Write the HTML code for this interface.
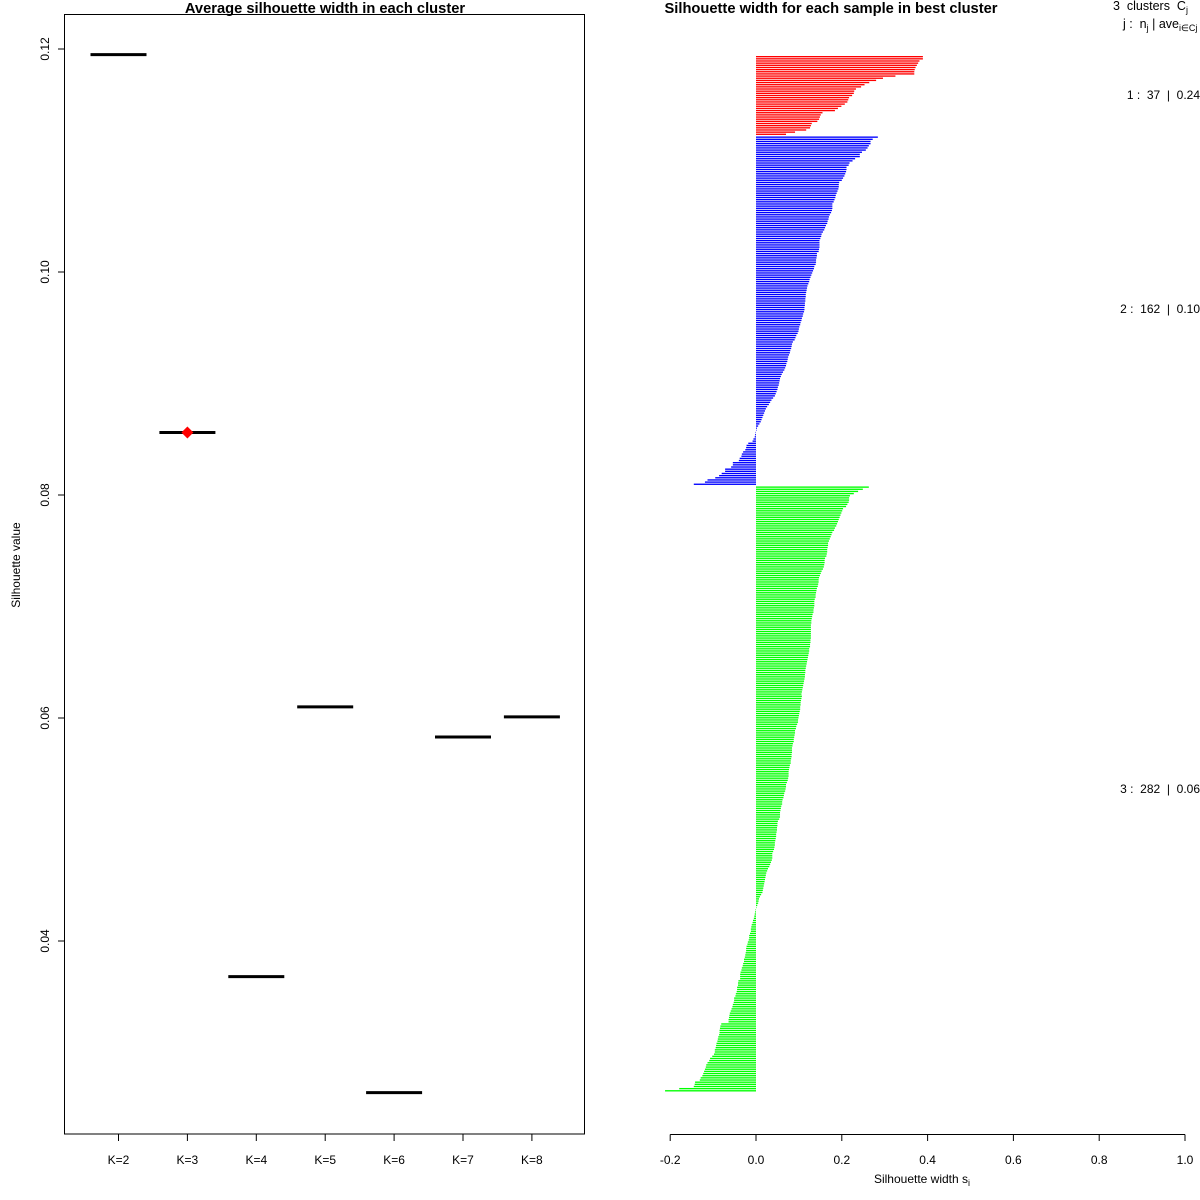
<!DOCTYPE html>
<html><head><meta charset="utf-8"><style>
html,body{margin:0;padding:0;background:#fff;}
svg{display:block;font-family:"Liberation Sans",sans-serif;}
</style></head><body>
<svg id="chart" width="1200" height="1200" viewBox="0 0 1200 1200">
  <g id="left"></g>
  <g id="right"></g>
</svg>
<script>
// ---------- Left chart data ----------
const kLabels = ["K=2","K=3","K=4","K=5","K=6","K=7","K=8"];
const avgSil = [0.1195, 0.0856, 0.0368, 0.0610, 0.0264, 0.0583, 0.0601];
const bestIndex = 1;
const yTicks = [0.04, 0.06, 0.08, 0.10, 0.12];
const yTickLabels = ["0.04","0.06","0.08","0.10","0.12"];

// ---------- Right chart data ----------
const cluster1 = [0.389,0.389,0.381,0.378,0.375,0.372,0.370,0.369,0.369,0.325,0.296,0.280,0.264,0.253,0.245,0.233,0.229,0.228,0.224,0.217,0.215,0.213,0.207,0.199,0.191,0.184,0.155,0.151,0.149,0.147,0.143,0.130,0.128,0.126,0.117,0.091,0.070];
const cluster2 = [0.284,0.272,0.267,0.267,0.263,0.260,0.256,0.247,0.242,0.242,0.231,0.225,0.218,0.216,0.211,0.211,0.210,0.208,0.206,0.203,0.200,0.194,0.193,0.193,0.192,0.190,0.188,0.186,0.185,0.183,0.181,0.178,0.178,0.178,0.177,0.175,0.172,0.170,0.169,0.167,0.166,0.163,0.161,0.159,0.156,0.153,0.152,0.150,0.148,0.148,0.148,0.148,0.147,0.146,0.142,0.142,0.141,0.140,0.140,0.139,0.136,0.135,0.133,0.131,0.129,0.127,0.125,0.124,0.122,0.120,0.119,0.118,0.117,0.116,0.116,0.115,0.115,0.114,0.114,0.113,0.113,0.112,0.110,0.109,0.107,0.106,0.104,0.103,0.101,0.100,0.099,0.097,0.094,0.092,0.090,0.086,0.084,0.083,0.082,0.080,0.079,0.077,0.075,0.074,0.073,0.071,0.070,0.068,0.066,0.063,0.060,0.058,0.056,0.055,0.054,0.053,0.051,0.050,0.048,0.046,0.044,0.040,0.036,0.033,0.030,0.026,0.023,0.021,0.019,0.017,0.015,0.013,0.011,0.008,0.005,0.002,0.001,-0.001,-0.002,-0.003,-0.006,-0.008,-0.018,-0.022,-0.023,-0.025,-0.030,-0.033,-0.034,-0.038,-0.040,-0.054,-0.054,-0.058,-0.072,-0.072,-0.080,-0.086,-0.095,-0.113,-0.119,-0.145];
const cluster3 = [0.263,0.249,0.238,0.228,0.219,0.217,0.217,0.216,0.213,0.210,0.203,0.201,0.199,0.197,0.195,0.193,0.191,0.189,0.187,0.184,0.182,0.178,0.176,0.174,0.172,0.170,0.168,0.168,0.167,0.166,0.166,0.165,0.164,0.161,0.160,0.160,0.159,0.158,0.156,0.153,0.151,0.149,0.147,0.146,0.146,0.145,0.144,0.142,0.141,0.140,0.139,0.139,0.137,0.136,0.136,0.136,0.135,0.134,0.134,0.132,0.131,0.130,0.129,0.129,0.128,0.128,0.128,0.128,0.128,0.128,0.128,0.127,0.127,0.126,0.126,0.124,0.124,0.123,0.122,0.121,0.120,0.119,0.118,0.117,0.116,0.115,0.115,0.114,0.114,0.113,0.112,0.111,0.110,0.109,0.108,0.107,0.106,0.107,0.106,0.105,0.104,0.104,0.103,0.103,0.102,0.101,0.100,0.099,0.098,0.098,0.096,0.094,0.093,0.091,0.091,0.090,0.089,0.088,0.088,0.086,0.085,0.084,0.084,0.084,0.083,0.083,0.082,0.081,0.081,0.079,0.078,0.077,0.076,0.076,0.076,0.075,0.074,0.072,0.070,0.070,0.069,0.068,0.066,0.065,0.064,0.062,0.061,0.061,0.059,0.058,0.057,0.056,0.056,0.056,0.054,0.051,0.050,0.050,0.049,0.049,0.048,0.047,0.047,0.046,0.045,0.044,0.044,0.043,0.042,0.040,0.038,0.038,0.038,0.037,0.035,0.033,0.031,0.028,0.026,0.024,0.023,0.022,0.021,0.020,0.019,0.018,0.017,0.016,0.015,0.012,0.009,0.007,0.006,0.005,0.003,0.001,-0.001,-0.002,-0.003,-0.004,-0.005,-0.007,-0.008,-0.010,-0.011,-0.012,-0.012,-0.014,-0.016,-0.016,-0.017,-0.019,-0.020,-0.022,-0.023,-0.023,-0.024,-0.025,-0.026,-0.028,-0.028,-0.030,-0.031,-0.033,-0.034,-0.036,-0.037,-0.037,-0.037,-0.041,-0.042,-0.042,-0.044,-0.044,-0.045,-0.047,-0.048,-0.051,-0.051,-0.052,-0.054,-0.055,-0.057,-0.059,-0.061,-0.062,-0.063,-0.064,-0.064,-0.081,-0.083,-0.084,-0.085,-0.085,-0.086,-0.088,-0.089,-0.090,-0.092,-0.093,-0.094,-0.096,-0.096,-0.098,-0.102,-0.107,-0.109,-0.113,-0.116,-0.117,-0.119,-0.121,-0.123,-0.125,-0.129,-0.131,-0.142,-0.143,-0.145,-0.179,-0.212];
const clusterColors = ["#ff0000","#0000ff","#00ff00"];
const clusterSummary = ["1 :  37  |  0.24","2 :  162  |  0.10","3 :  282  |  0.06"];
const xTicks = [-0.2,0,0.2,0.4,0.6,0.8,1.0];
const xTickLabels = ["-0.2","0.0","0.2","0.4","0.6","0.8","1.0"];

const NS = "http://www.w3.org/2000/svg";
function mk(parent, tag, attrs, text){
  const e = document.createElementNS(NS, tag);
  for (const k in attrs) e.setAttribute(k, attrs[k]);
  if (text !== undefined) e.textContent = text;
  parent.appendChild(e);
  return e;
}

// ---------- LEFT ----------
const L = document.getElementById("left");
const yScale = v => 49 + (0.12 - v) / 0.02 * 223;
const xK = i => 118.5 + i * 68.9;

let box = mk(L, "rect", {x:64.5, y:14.5, width:520, height:1119.5, fill:"none", stroke:"#000", "stroke-width":1});



let lt = mk(L, "text", {x:325, y:13, "text-anchor":"middle", "font-size":"14.7", "font-weight":"bold"}, "Average silhouette width in each cluster");



let yl = mk(L, "text", {x:0, y:0, transform:"translate(20,565) rotate(-90)", "text-anchor":"middle", "font-size":"12"}, "Silhouette value");



yTicks.forEach((v, i) => {
  const y = yScale(v);
  const t = mk(L, "line", {x1:58, x2:64.5, y1:y, y2:y, stroke:"#000"});
  
  
  const tl = mk(L, "text", {x:0, y:0, transform:`translate(49,${y}) rotate(-90)`, "text-anchor":"middle", "font-size":"12"}, yTickLabels[i]);
  
  
});

kLabels.forEach((lab, i) => {
  const x = xK(i);
  const t = mk(L, "line", {x1:x, x2:x, y1:1134, y2:1141, stroke:"#000"});
  
  
  const tl = mk(L, "text", {x:x, y:1164, "text-anchor":"middle", "font-size":"12"}, lab);
  
  
  const y = yScale(avgSil[i]);
  const seg = mk(L, "line", {x1:x-28, x2:x+28, y1:y, y2:y, stroke:"#000", "stroke-width":3});
  
  
});
{
  const x = xK(bestIndex), y = yScale(avgSil[bestIndex]);
  const d = mk(L, "polygon", {points:`${x},${y-6} ${x+6},${y} ${x},${y+6} ${x-6},${y}`, fill:"#ff0000"});
  
  
}

// ---------- RIGHT ----------
const R = document.getElementById("right");
const xScale = v => 756 + v / 0.2 * 85.8;
const pitch = 2.156, barH = 1.35, gapExtra = 0.7;

let rt = mk(R, "text", {x:831, y:13, "text-anchor":"middle", "font-size":"14.7", "font-weight":"bold"}, "Silhouette width for each sample in best cluster");



let y0 = 56;
const clusters = [cluster1, cluster2, cluster3];
clusters.forEach((vals, c) => {
  vals.forEach((v, i) => {
    const y = y0 + i * pitch;
    const xa = xScale(Math.min(0, v)), xb = xScale(Math.max(0, v));
    const b = mk(R, "rect", {x:xa, y:y, width:Math.max(0.01, xb - xa), height:barH, fill:clusterColors[c]});
    
    
  });
  y0 = y0 + vals.length * pitch + gapExtra;
});

let ax = mk(R, "line", {x1:xScale(-0.2), x2:xScale(1.0), y1:1134.5, y2:1134.5, stroke:"#000"});


xTicks.forEach((v, i) => {
  const x = xScale(v);
  const t = mk(R, "line", {x1:x, x2:x, y1:1134.5, y2:1141, stroke:"#000"});
  
  
  const tl = mk(R, "text", {x:x, y:1164, "text-anchor":"middle", "font-size":"12"}, xTickLabels[i]);
  
  
});

let xl = mk(R, "text", {x:922, y:1183, "text-anchor":"middle", "font-size":"12"});


xl.innerHTML = 'Silhouette width s<tspan font-size="9" dy="3">i</tspan>';

let h1 = mk(R, "text", {x:1113, y:10, "font-size":"12.5"});


h1.innerHTML = '3\u00a0 clusters\u00a0 C<tspan font-size="9" dy="3">j</tspan>';
let h2 = mk(R, "text", {x:1123, y:28, "font-size":"12.5"});


h2.innerHTML = 'j :\u00a0 n<tspan font-size="9" dy="3">j</tspan><tspan dy="-3"> | ave</tspan><tspan font-size="9" dy="3">i∈Cj</tspan><tspan dy="-3">\u00a0 s</tspan><tspan font-size="9" dy="3">i</tspan>';

const summaryY = [99, 313, 793];
clusterSummary.forEach((s, c) => {
  const t = mk(R, "text", {x:1200, y:summaryY[c], "text-anchor":"end", "font-size":"12"}, s.replace(/  /g, "\u00a0\u00a0"));
  
  
});
</script>
</body></html>
